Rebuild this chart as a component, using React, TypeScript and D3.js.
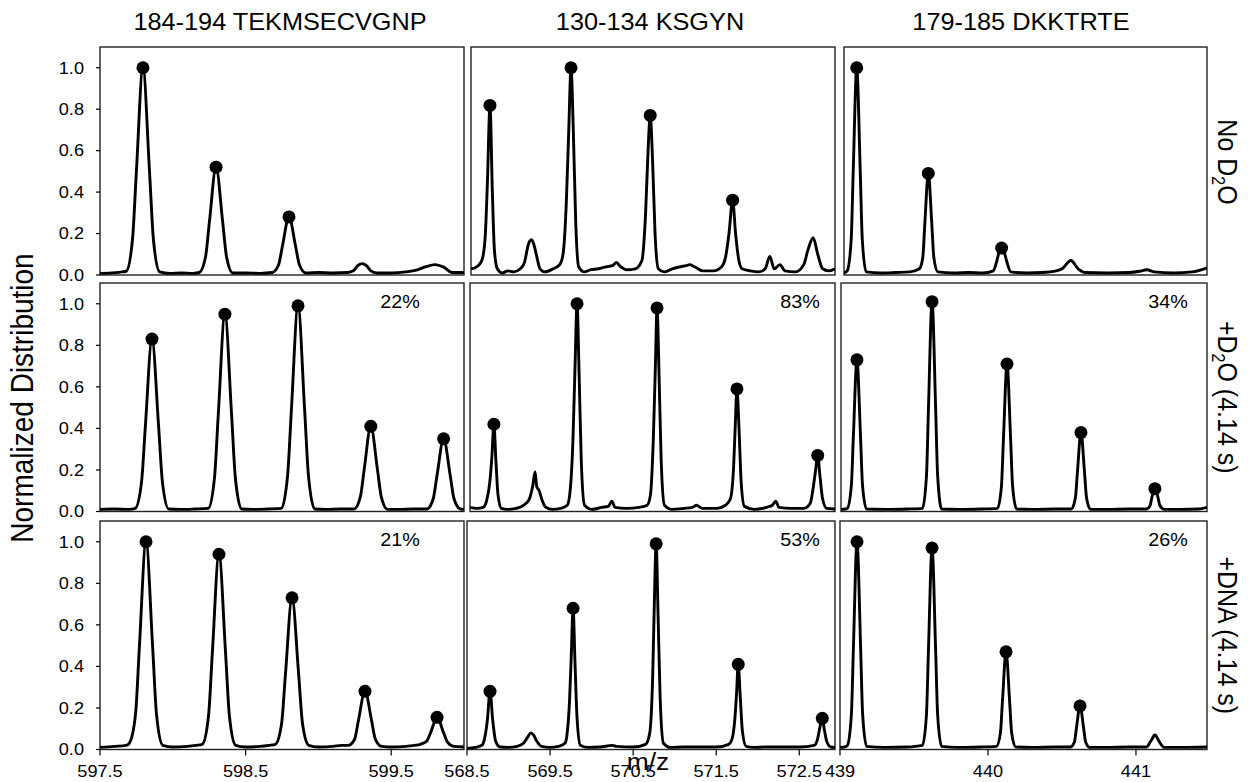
import React from 'react';
import * as d3 from 'd3';

// ---------- labels / ticks ----------
const columnTitles = ['184-194 TEKMSECVGNP', '130-134 KSGYN', '179-185 DKKTRTE'];
const rowLabelParts = [
  ['No D', '2', 'O'],
  ['+D', '2', 'O (4.14 s)'],
  ['+DNA (4.14 s)', '', ''],
];
const yAxisTitle = 'Normalized Distribution';
const xAxisTitle = 'm/z';
const yTicks = [0, 0.2, 0.4, 0.6, 0.8, 1.0];
const xTicksCol1 = [597.5, 598.5, 599.5];
const xTicksCol2 = [568.5, 569.5, 570.5, 571.5, 572.5];
const xTicksCol3 = [439, 440, 441];
const xDomainCol1 = [597.5, 600.0];
const xDomainCol2 = [568.5, 572.93];
const xDomainCol3 = [439, 441.48];
const yDomain = [0, 1.1];
const percentRow2 = ['22%', '83%', '34%'];
const percentRow3 = ['21%', '53%', '26%'];

// ---------- traces (m/z, normalized intensity) ----------
const r0c1Trace = [
  [597.5, 0.008], [597.58, 0.01], [597.64, 0.014], [597.68, 0.018],
  [597.723, 0.17], [597.75, 0.5], [597.795, 1.0], [597.84, 0.5], [597.867, 0.17], [597.91, 0.015],
  [597.98, 0.008], [598.06, 0.01], [598.14, 0.008],
  [598.182, 0.012], [598.225, 0.088], [598.252, 0.26], [598.297, 0.52], [598.342, 0.26], [598.369, 0.088], [598.412, 0.01],
  [598.5, 0.01], [598.6, 0.008],
  [598.683, 0.012], [598.726, 0.048], [598.753, 0.14], [598.798, 0.28], [598.843, 0.14], [598.87, 0.048], [598.913, 0.01],
  [599.0, 0.012], [599.1, 0.01], [599.2, 0.012],
  [599.24, 0.02], [599.27, 0.045], [599.3, 0.055], [599.33, 0.045], [599.36, 0.02], [599.4, 0.01],
  [599.5, 0.01], [599.6, 0.015], [599.68, 0.025],
  [599.74, 0.04], [599.8, 0.05], [599.86, 0.038], [599.92, 0.012], [600.0, 0.012],
];
const r0c2Trace = [
  [568.5, 0.03], [568.55, 0.035], [568.6, 0.05],
  [568.64, 0.08], [568.675, 0.2], [568.7, 0.45], [568.731, 0.818], [568.76, 0.4], [568.785, 0.12], [568.82, 0.03],
  [568.88, 0.01], [568.95, 0.02], [569.02, 0.015], [569.1, 0.03],
  [569.15, 0.06], [569.2, 0.15], [569.238, 0.17], [569.27, 0.14], [569.3, 0.09], [569.34, 0.03],
  [569.4, 0.015], [569.5, 0.03], [569.58, 0.05],
  [569.62, 0.1], [569.66, 0.35], [569.69, 0.7], [569.717, 1.0], [569.745, 0.7], [569.775, 0.25], [569.81, 0.04],
  [569.88, 0.015], [569.95, 0.025], [570.05, 0.03], [570.15, 0.04],
  [570.22, 0.045], [570.27, 0.06], [570.32, 0.04], [570.4, 0.025], [570.5, 0.03],
  [570.58, 0.07], [570.625, 0.3], [570.655, 0.6], [570.681, 0.77], [570.71, 0.55], [570.74, 0.2], [570.78, 0.03],
  [570.85, 0.015], [570.95, 0.03], [571.05, 0.04],
  [571.12, 0.045], [571.16, 0.05], [571.22, 0.04], [571.32, 0.02], [571.45, 0.02], [571.55, 0.04],
  [571.6, 0.09], [571.64, 0.2], [571.684, 0.36], [571.72, 0.2], [571.76, 0.07], [571.8, 0.03],
  [571.9, 0.02], [572.0, 0.015], [572.08, 0.03],
  [572.137, 0.09], [572.19, 0.03], [572.26, 0.05], [572.32, 0.02], [572.45, 0.015], [572.55, 0.05],
  [572.6, 0.12], [572.664, 0.18], [572.72, 0.1], [572.78, 0.03], [572.85, 0.02], [572.93, 0.03],
];
const r0c3Trace = [
  [439.0, 0.01],
  [439.022, 0.02], [439.049, 0.17], [439.063, 0.5], [439.087, 1.0], [439.111, 0.5], [439.125, 0.17], [439.152, 0.015],
  [439.25, 0.01], [439.35, 0.012], [439.45, 0.015],
  [439.515, 0.03], [439.538, 0.083], [439.552, 0.245], [439.576, 0.49], [439.6, 0.245], [439.614, 0.083], [439.641, 0.015],
  [439.75, 0.01], [439.85, 0.012], [439.95, 0.01],
  [440.02, 0.02], [440.045, 0.07], [440.06, 0.11], [440.077, 0.12], [440.094, 0.11], [440.11, 0.07], [440.14, 0.015],
  [440.25, 0.01], [440.35, 0.012], [440.45, 0.02],
  [440.49, 0.03], [440.55, 0.07], [440.6, 0.03], [440.65, 0.012],
  [440.8, 0.01], [440.95, 0.012],
  [441.02, 0.018], [441.07, 0.025], [441.12, 0.015],
  [441.25, 0.01], [441.38, 0.015], [441.44, 0.025], [441.48, 0.035],
];
const r1c1Trace = [
  [597.5, 0.01], [597.6, 0.012], [597.7, 0.01],
  [597.742, 0.015], [597.785, 0.14], [597.812, 0.415], [597.857, 0.83], [597.902, 0.415], [597.929, 0.14], [597.972, 0.012],
  [598.05, 0.01], [598.15, 0.012],
  [598.243, 0.015], [598.286, 0.16], [598.313, 0.475], [598.358, 0.95], [598.403, 0.475], [598.43, 0.16], [598.473, 0.012],
  [598.55, 0.01], [598.65, 0.012],
  [598.745, 0.015], [598.788, 0.17], [598.815, 0.495], [598.86, 0.99], [598.905, 0.495], [598.932, 0.17], [598.975, 0.012],
  [599.05, 0.01], [599.15, 0.012],
  [599.245, 0.012], [599.288, 0.07], [599.315, 0.205], [599.36, 0.41], [599.405, 0.205], [599.432, 0.07], [599.475, 0.01],
  [599.55, 0.01], [599.65, 0.012],
  [599.745, 0.012], [599.788, 0.06], [599.815, 0.175], [599.86, 0.35], [599.905, 0.175], [599.932, 0.06], [599.975, 0.012], [600.0, 0.01],
];
const r1c2Trace = [
  [568.5, 0.02], [568.58, 0.015], [568.66, 0.02],
  [568.7, 0.05], [568.74, 0.14], [568.765, 0.26], [568.79, 0.42], [568.815, 0.24], [568.84, 0.08], [568.88, 0.015],
  [568.96, 0.01], [569.06, 0.015], [569.15, 0.03],
  [569.22, 0.06], [569.26, 0.12], [569.29, 0.19], [569.31, 0.12], [569.34, 0.1], [569.37, 0.06], [569.42, 0.02],
  [569.5, 0.01], [569.6, 0.015], [569.68, 0.03],
  [569.71, 0.08], [569.75, 0.35], [569.775, 0.7], [569.799, 1.0], [569.825, 0.65], [569.85, 0.25], [569.89, 0.03],
  [569.98, 0.01], [570.1, 0.02], [570.18, 0.025], [570.22, 0.05], [570.26, 0.02], [570.4, 0.015], [570.55, 0.02], [570.65, 0.03],
  [570.69, 0.08], [570.725, 0.35], [570.75, 0.7], [570.77, 0.98], [570.795, 0.65], [570.82, 0.25], [570.86, 0.03],
  [570.95, 0.01], [571.1, 0.015], [571.2, 0.02], [571.25, 0.03], [571.32, 0.015], [571.5, 0.015], [571.6, 0.03],
  [571.66, 0.06], [571.7, 0.22], [571.72, 0.42], [571.74, 0.59], [571.765, 0.4], [571.79, 0.15], [571.83, 0.025],
  [571.95, 0.01], [572.1, 0.02], [572.17, 0.03], [572.21, 0.05], [572.25, 0.02], [572.4, 0.015], [572.55, 0.015], [572.63, 0.04],
  [572.66, 0.1], [572.695, 0.2], [572.72, 0.27], [572.745, 0.18], [572.78, 0.06], [572.83, 0.015], [572.93, 0.012],
];
const r1c3Trace = [
  [439.0, 0.01], [439.03, 0.012],
  [439.043, 0.015], [439.07, 0.124], [439.084, 0.365], [439.108, 0.73], [439.132, 0.365], [439.146, 0.124], [439.173, 0.012],
  [439.3, 0.01], [439.45, 0.012],
  [439.552, 0.015], [439.579, 0.17], [439.593, 0.505], [439.617, 1.01], [439.641, 0.505], [439.655, 0.17], [439.682, 0.012],
  [439.8, 0.01], [439.95, 0.012],
  [440.06, 0.015], [440.087, 0.12], [440.101, 0.355], [440.125, 0.71], [440.149, 0.355], [440.163, 0.12], [440.19, 0.012],
  [440.3, 0.01], [440.45, 0.012],
  [440.561, 0.012], [440.588, 0.065], [440.602, 0.19], [440.626, 0.38], [440.65, 0.19], [440.664, 0.065], [440.691, 0.01],
  [440.8, 0.01], [440.95, 0.012],
  [441.07, 0.012], [441.095, 0.03], [441.107, 0.07], [441.127, 0.11], [441.147, 0.07], [441.16, 0.03], [441.19, 0.01],
  [441.3, 0.01], [441.42, 0.012], [441.48, 0.02],
];
const r2c1Trace = [
  [597.5, 0.01], [597.6, 0.015], [597.68, 0.02],
  [597.701, 0.03], [597.744, 0.17], [597.771, 0.5], [597.816, 1.0], [597.861, 0.5], [597.888, 0.17], [597.931, 0.02],
  [598.0, 0.012], [598.1, 0.015], [598.16, 0.02],
  [598.202, 0.025], [598.245, 0.16], [598.272, 0.47], [598.317, 0.94], [598.362, 0.47], [598.389, 0.16], [598.432, 0.02],
  [598.5, 0.012], [598.6, 0.015], [598.66, 0.02],
  [598.704, 0.025], [598.747, 0.124], [598.774, 0.365], [598.819, 0.73], [598.864, 0.365], [598.891, 0.124], [598.934, 0.02],
  [599.0, 0.012], [599.1, 0.015], [599.16, 0.02],
  [599.205, 0.02], [599.248, 0.048], [599.275, 0.14], [599.32, 0.28], [599.365, 0.14], [599.392, 0.048], [599.435, 0.015],
  [599.5, 0.012], [599.6, 0.015], [599.66, 0.02],
  [599.7, 0.025], [599.743, 0.04], [599.77, 0.08], [599.815, 0.155], [599.86, 0.08], [599.887, 0.035], [599.93, 0.015], [600.0, 0.012],
];
const r2c2Trace = [
  [568.5, 0.005], [568.6, 0.01], [568.68, 0.02],
  [568.71, 0.05], [568.745, 0.14], [568.777, 0.28], [568.81, 0.14], [568.845, 0.04], [568.9, 0.012],
  [569.0, 0.01], [569.1, 0.015], [569.18, 0.03],
  [569.23, 0.06], [569.27, 0.08], [569.3, 0.07], [569.34, 0.04], [569.4, 0.015],
  [569.5, 0.01], [569.6, 0.015], [569.68, 0.03],
  [569.7, 0.06], [569.735, 0.24], [569.755, 0.45], [569.777, 0.68], [569.8, 0.42], [569.825, 0.15], [569.865, 0.02],
  [569.95, 0.01], [570.1, 0.012], [570.25, 0.02], [570.3, 0.015], [570.5, 0.012], [570.65, 0.025],
  [570.7, 0.08], [570.735, 0.35], [570.755, 0.7], [570.777, 0.99], [570.8, 0.65], [570.825, 0.25], [570.865, 0.03],
  [570.95, 0.01], [571.1, 0.012], [571.3, 0.012], [571.5, 0.012], [571.65, 0.025],
  [571.69, 0.05], [571.725, 0.15], [571.745, 0.27], [571.765, 0.41], [571.79, 0.25], [571.815, 0.09], [571.86, 0.015],
  [571.95, 0.01], [572.1, 0.012], [572.3, 0.012], [572.5, 0.012], [572.68, 0.02],
  [572.72, 0.05], [572.75, 0.11], [572.777, 0.15], [572.8, 0.1], [572.83, 0.04], [572.88, 0.012], [572.93, 0.01],
];
const r2c3Trace = [
  [439.0, 0.01], [439.03, 0.012],
  [439.05, 0.02], [439.077, 0.17], [439.091, 0.5], [439.115, 1.0], [439.139, 0.5], [439.153, 0.17], [439.18, 0.015],
  [439.3, 0.01], [439.45, 0.012],
  [439.557, 0.02], [439.584, 0.165], [439.598, 0.485], [439.622, 0.97], [439.646, 0.485], [439.66, 0.165], [439.687, 0.015],
  [439.8, 0.01], [439.95, 0.012],
  [440.057, 0.015], [440.084, 0.08], [440.098, 0.235], [440.122, 0.47], [440.146, 0.235], [440.16, 0.08], [440.187, 0.012],
  [440.3, 0.01], [440.45, 0.012],
  [440.557, 0.012], [440.584, 0.036], [440.598, 0.105], [440.622, 0.21], [440.646, 0.105], [440.66, 0.036], [440.687, 0.01],
  [440.8, 0.01], [440.95, 0.012],
  [441.07, 0.012], [441.1, 0.04], [441.128, 0.07], [441.155, 0.04], [441.19, 0.01],
  [441.3, 0.01], [441.48, 0.012],
];

// ---------- centroid markers ----------
const r0c1Dots = [[597.795, 1.0], [598.297, 0.52], [598.798, 0.28]];
const r0c2Dots = [[568.731, 0.818], [569.717, 1.0], [570.681, 0.77], [571.684, 0.361]];
const r0c3Dots = [[439.087, 1.0], [439.576, 0.49], [440.077, 0.13]];
const r1c1Dots = [[597.857, 0.83], [598.358, 0.95], [598.86, 0.99], [599.36, 0.41], [599.86, 0.35]];
const r1c2Dots = [[568.79, 0.42], [569.799, 1.0], [570.77, 0.98], [571.74, 0.59], [572.72, 0.27]];
const r1c3Dots = [[439.108, 0.73], [439.617, 1.01], [440.125, 0.71], [440.626, 0.38], [441.127, 0.11]];
const r2c1Dots = [[597.816, 1.0], [598.317, 0.94], [598.819, 0.73], [599.32, 0.28], [599.815, 0.155]];
const r2c2Dots = [[568.777, 0.28], [569.777, 0.68], [570.777, 0.99], [571.765, 0.41], [572.777, 0.15]];
const r2c3Dots = [[439.115, 1.0], [439.622, 0.97], [440.122, 0.47], [440.622, 0.21]];

// ---------- tables built from the arrays ----------
const traces = [
  [r0c1Trace, r0c2Trace, r0c3Trace],
  [r1c1Trace, r1c2Trace, r1c3Trace],
  [r2c1Trace, r2c2Trace, r2c3Trace],
];
const dots = [
  [r0c1Dots, r0c2Dots, r0c3Dots],
  [r1c1Dots, r1c2Dots, r1c3Dots],
  [r2c1Dots, r2c2Dots, r2c3Dots],
];
const xDomains = [xDomainCol1, xDomainCol2, xDomainCol3];
const xTicks = [xTicksCol1, xTicksCol2, xTicksCol3];
const xTickFmt = [d3.format('.1f'), d3.format('.1f'), d3.format('d')];
const percents = [[null, null, null], percentRow2, percentRow3];

// ---------- layout ----------
const W = 1250;
const H = 782;
const rowY = [[47, 275], [283, 511.5], [521, 749.5]];
const colX = [
  [[100, 464], [471, 835], [844, 1207]],
  [[100, 464], [470, 835], [841, 1207]],
  [[100, 464], [467, 835], [840, 1207]],
];
const titleX = [280, 650, 1021];
const pctOffset = [-64, -35, -39];
const FONT = '"Liberation Sans", Arial, Helvetica, sans-serif';
const SX = 1.1;

function Txt({ x, y, size, anchor = 'middle', rotate = 0, dy = '0.35em', children }: any) {
  return (
    <text
      transform={`translate(${x},${y}) scale(${SX},1)${rotate ? ` rotate(${rotate})` : ''}`}
      fontSize={size}
      textAnchor={anchor}
      dy={dy}
      fontFamily={FONT}
      fill="#000"
    >
      {children}
    </text>
  );
}

export default function App() {
  const panels: any[] = [];
  for (let r = 0; r < 3; r++) {
    const [top, bottom] = rowY[r];
    const y = d3.scaleLinear().domain(yDomain).range([bottom, top]);
    for (let c = 0; c < 3; c++) {
      const [left, right] = colX[r][c];
      const x = d3.scaleLinear().domain(xDomains[c]).range([left, right]);
      const line = d3
        .line<number[]>()
        .x((d) => x(d[0]))
        .y((d) => y(d[1]))
        .curve(d3.curveMonotoneX);
      const clipId = `clip-${r}-${c}`;
      panels.push(
        <g key={`p${r}${c}`}>
          <clipPath id={clipId}>
            <rect x={left} y={top - 10} width={right - left} height={bottom - top + 10} />
          </clipPath>
          <rect x={left} y={top} width={right - left} height={bottom - top} fill="none" stroke="#222" strokeWidth={1.4} />
          <path d={line(traces[r][c] as any) || ''} fill="none" stroke="#000" strokeWidth={2.9} strokeLinejoin="round" clipPath={`url(#${clipId})`} />
          {dots[r][c].map((d, i) => (
            <circle key={i} cx={x(d[0])} cy={y(d[1])} r={6.5} fill="#000" />
          ))}
          {percents[r][c] && (
            <Txt x={right + pctOffset[c]} y={top + 19} size={18}>
              {percents[r][c]}
            </Txt>
          )}
          {c === 0 &&
            yTicks.map((t) => (
              <g key={`yt${t}`}>
                <line x1={left - 4} x2={left} y1={y(t)} y2={y(t)} stroke="#000" strokeWidth={1.2} />
                <Txt x={left - 16} y={y(t)} size={16.5} anchor="end">
                  {d3.format('.1f')(t)}
                </Txt>
              </g>
            ))}
          {r === 2 &&
            xTicks[c].map((t) => (
              <g key={`xt${t}`}>
                <line x1={x(t)} x2={x(t)} y1={bottom} y2={bottom + 6} stroke="#000" strokeWidth={1.2} />
                <Txt x={x(t)} y={bottom + 22} size={16.5}>
                  {xTickFmt[c](t)}
                </Txt>
              </g>
            ))}
        </g>
      );
    }
  }

  return (
    <svg width={W} height={H} style={{ position: 'absolute', left: 0, top: 0, background: '#fff' }}>
      <rect x={0} y={0} width={W} height={H} fill="#fff" />
      {panels}
      {columnTitles.map((t, i) => (
        <Txt key={t} x={titleX[i]} y={22} size={23}>
          {t}
        </Txt>
      ))}
      {rowLabelParts.map((p, r) => {
        const cy = (rowY[r][0] + rowY[r][1]) / 2 + (r === 0 ? 1 : 0);
        return (
          <Txt key={r} x={1228} y={cy} size={25} rotate={90}>
            <tspan>{p[0]}</tspan>
            {p[1] && (
              <tspan fontSize={16} dy={6}>
                {p[1]}
              </tspan>
            )}
            {p[2] && <tspan dy={p[1] ? -6 : 0}>{p[2]}</tspan>}
          </Txt>
        );
      })}
      <Txt x={22} y={398} size={28} rotate={-90}>
        {yAxisTitle}
      </Txt>
      <Txt x={648} y={762} size={24}>
        {xAxisTitle}
      </Txt>
    </svg>
  );
}
